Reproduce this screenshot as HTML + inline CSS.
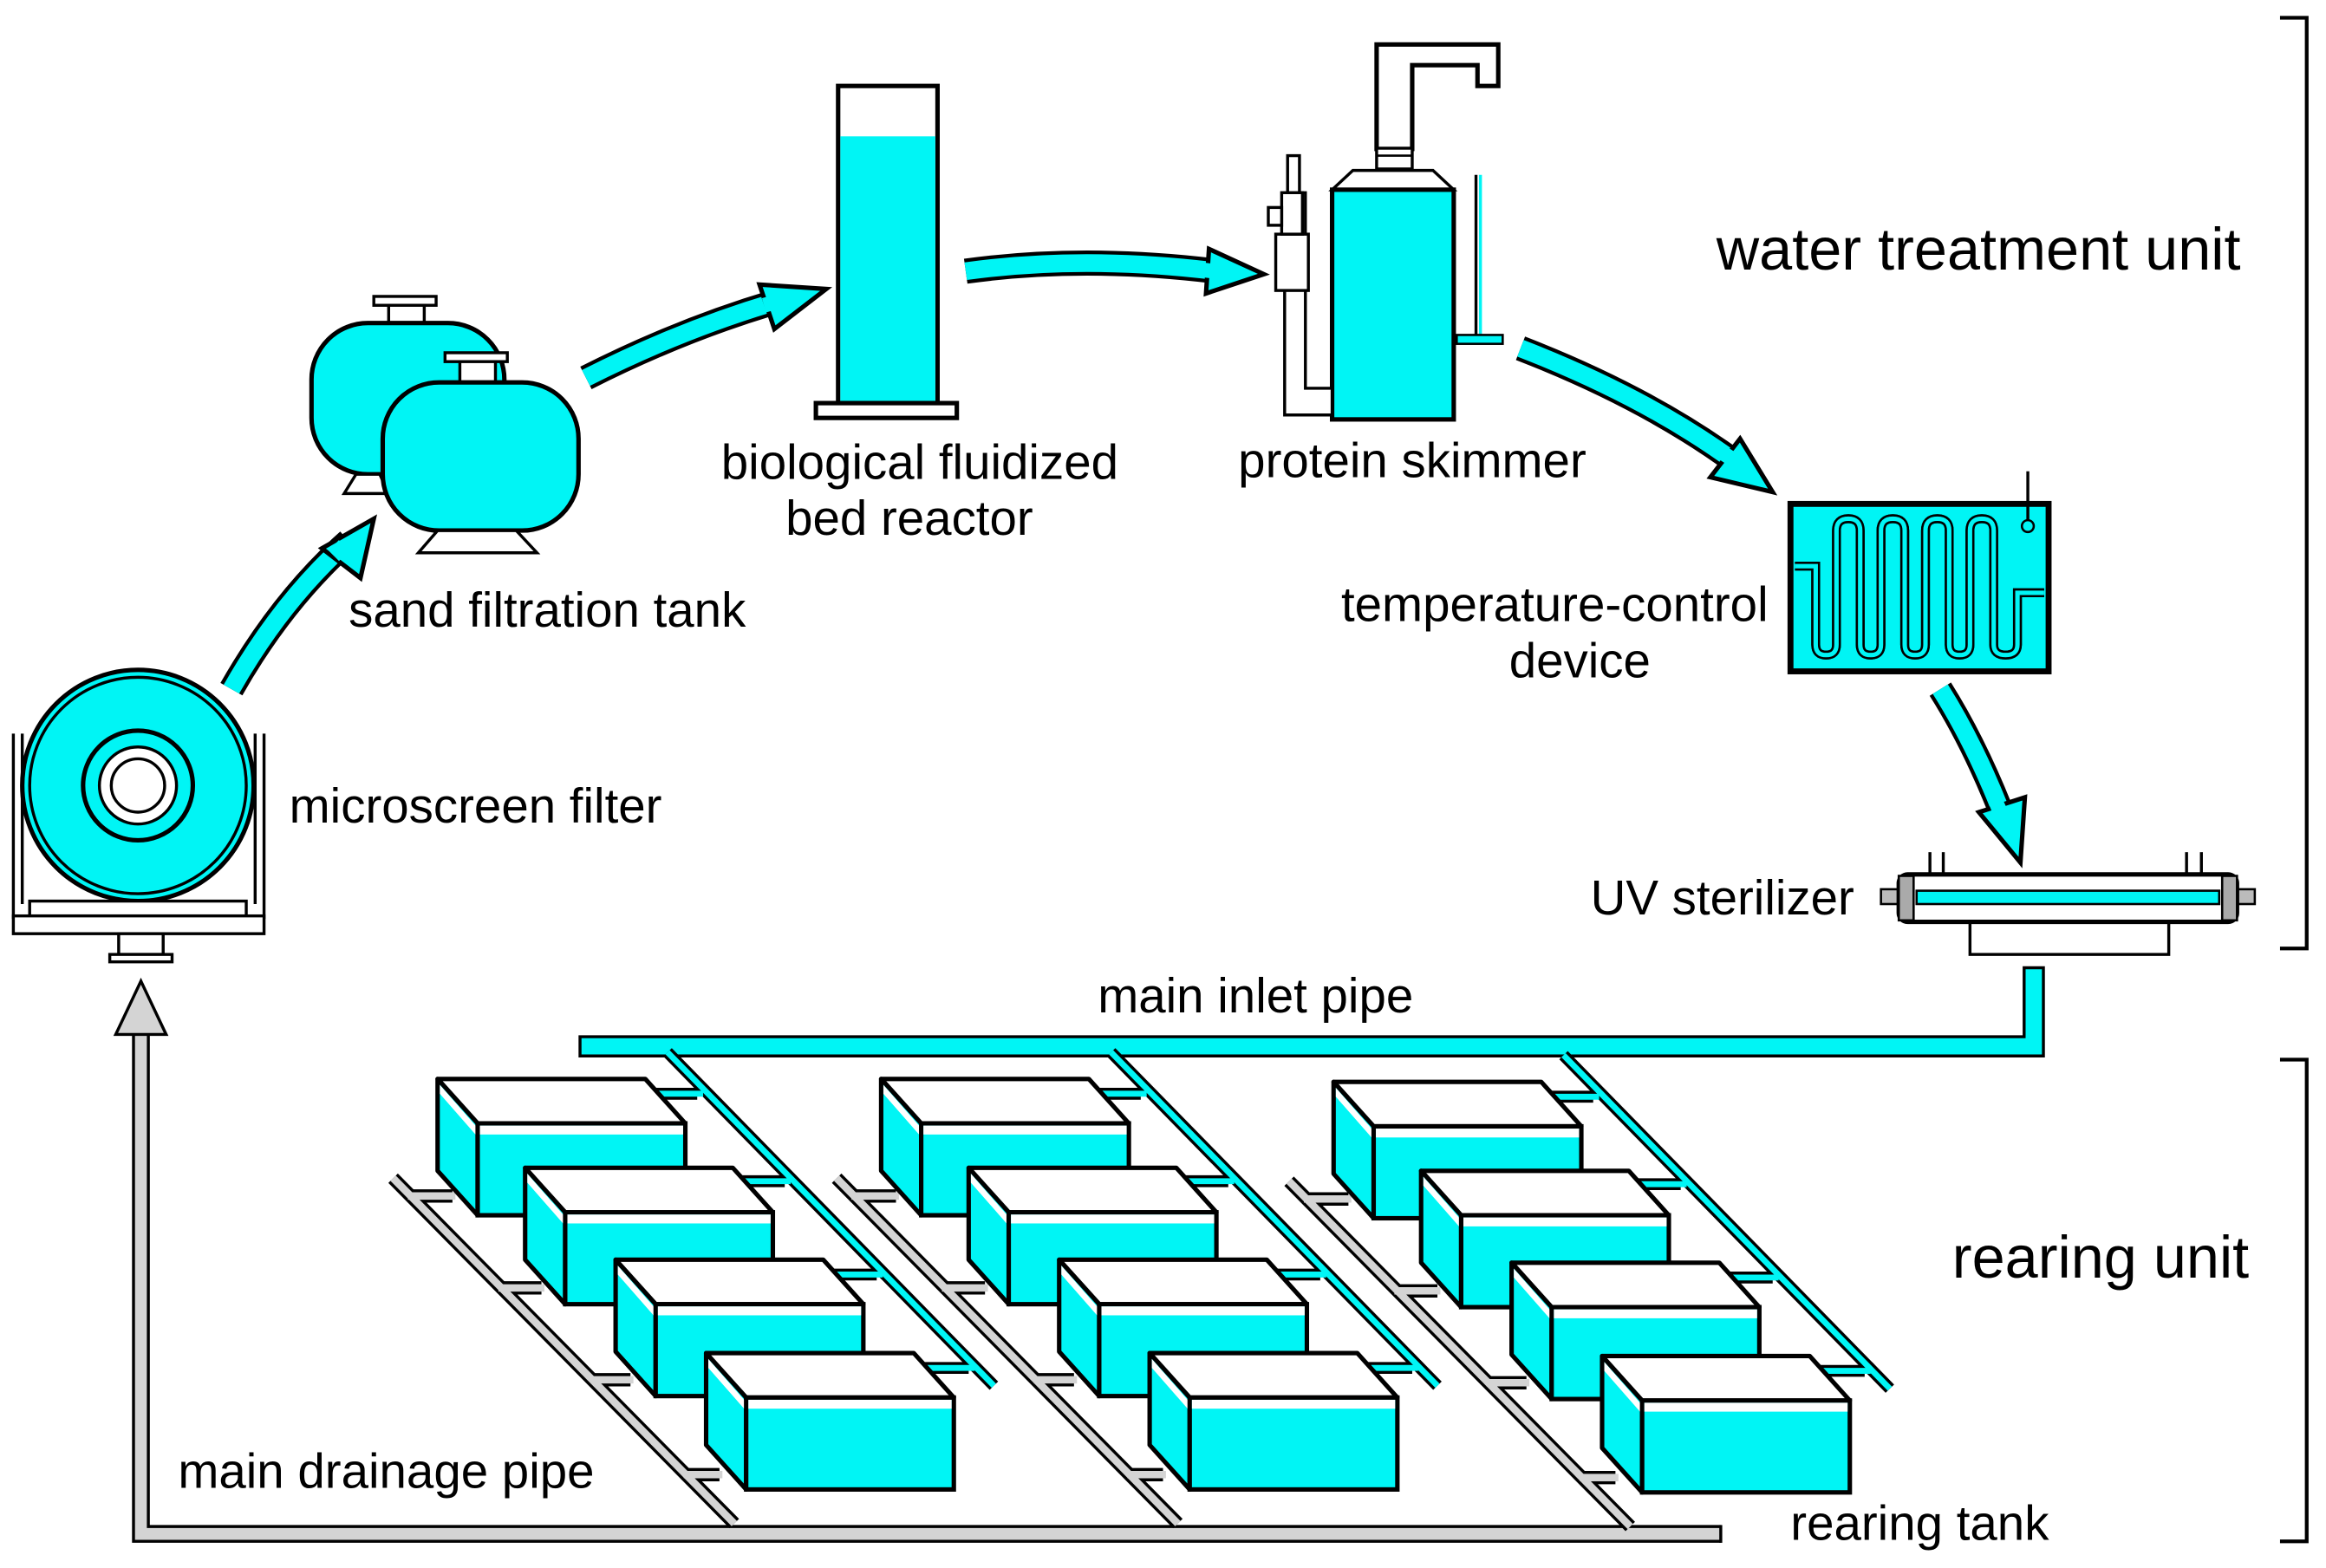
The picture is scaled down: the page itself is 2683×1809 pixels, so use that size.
<!DOCTYPE html>
<html><head><meta charset="utf-8"><style>
html,body{margin:0;padding:0;background:#fff;}
svg{display:block;}
text{font-family:"Liberation Sans",Arial,sans-serif;fill:#000;}
</style></head><body>
<svg width="2683" height="1809" viewBox="0 0 1568 1058" preserveAspectRatio="none" xmlns="http://www.w3.org/2000/svg">
<defs>
<g id="tank">
  <polygon points="0,0 140,0 167,30 27,30" fill="#fff" stroke="#000" stroke-width="3" stroke-linejoin="round"/>
  <polygon points="0,0 27,30 27,92 0,62" fill="#00f5f5" stroke="#000" stroke-width="3" stroke-linejoin="round"/>
  <polygon points="1.5,4 26,32 26,38 1.5,10" fill="#fff"/>
  <rect x="27" y="30" width="140" height="62" fill="#00f5f5" stroke="#000" stroke-width="3"/>
  <rect x="28.5" y="31.5" width="137" height="6" fill="#fff"/>
</g>
<g id="grp">
  <g stroke="#000" stroke-width="9"><line x1="12" y1="12" x2="40" y2="12"/><line x1="73" y1="74" x2="100" y2="74"/><line x1="135" y1="136" x2="160" y2="136"/><line x1="198" y1="200" x2="220" y2="200"/></g>
  <path d="M0,0 L230,233" stroke="#000" stroke-width="9" fill="none"/>
  <path d="M0,0 L230,233" stroke="#d4d4d4" stroke-width="5" fill="none"/>
  <g stroke="#d4d4d4" stroke-width="5"><line x1="10" y1="12" x2="42" y2="12"/><line x1="71" y1="74" x2="102" y2="74"/><line x1="133" y1="136" x2="162" y2="136"/><line x1="196" y1="200" x2="222" y2="200"/></g>
  <g stroke="#000" stroke-width="8"><line x1="168" y1="-57" x2="205" y2="-57"/><line x1="228" y1="2" x2="264" y2="2"/><line x1="290" y1="65" x2="326" y2="65"/><line x1="350" y1="128" x2="388" y2="128"/></g>
  <path d="M185,-85 L405,140" stroke="#000" stroke-width="8" fill="none"/>
  <path d="M185,-85 L405,140" stroke="#00f5f5" stroke-width="4" fill="none"/>
  <g stroke="#00f5f5" stroke-width="4"><line x1="168" y1="-57" x2="209" y2="-57"/><line x1="228" y1="2" x2="268" y2="2"/><line x1="290" y1="65" x2="330" y2="65"/><line x1="350" y1="128" x2="392" y2="128"/></g>
  <use href="#tank" x="30" y="-67"/>
  <use href="#tank" x="89" y="-7"/>
  <use href="#tank" x="150" y="55"/>
  <use href="#tank" x="211" y="118"/>
</g>
</defs>

<path d="M95,690 L95,1035 L1160,1035" stroke="#000" stroke-width="12" fill="none"/>
<path d="M95,690 L95,1035 L1160,1035" stroke="#d4d4d4" stroke-width="8" fill="none"/>
<line x1="1160" y1="1029" x2="1160" y2="1041" stroke="#000" stroke-width="2"/>
<polygon points="78,698 95,662 112,698" fill="#d4d4d4" stroke="#000" stroke-width="2"/>

<path d="M390,706 L1371,706 L1371,652" stroke="#000" stroke-width="15" fill="none"/>
<path d="M392,706 L1371,706 L1371,654" stroke="#00f5f5" stroke-width="11" fill="none"/>

<use href="#grp" x="265" y="795"/>
<use href="#grp" x="564" y="795"/>
<use href="#grp" x="869" y="797"/>

<g stroke="#000" stroke-width="2" fill="none">
<line x1="9" y1="495" x2="9" y2="620"/><line x1="15" y1="495" x2="15" y2="610"/>
<line x1="178" y1="495" x2="178" y2="620"/><line x1="172" y1="495" x2="172" y2="610"/>
</g>
<circle cx="93" cy="530" r="78" fill="#00f5f5" stroke="#000" stroke-width="3"/>
<circle cx="93" cy="530" r="73" fill="none" stroke="#000" stroke-width="2"/>
<circle cx="93" cy="530" r="37" fill="#00f5f5" stroke="#000" stroke-width="3"/>
<circle cx="93" cy="530" r="26" fill="#fff" stroke="#000" stroke-width="2"/>
<circle cx="93" cy="530" r="18" fill="#fff" stroke="#000" stroke-width="2"/>
<rect x="20" y="608" width="146" height="10" fill="#fff" stroke="#000" stroke-width="2"/>
<rect x="9" y="618" width="169" height="12" fill="#fff" stroke="#000" stroke-width="2"/>
<rect x="80" y="630" width="30" height="14" fill="#fff" stroke="#000" stroke-width="2"/>
<rect x="74" y="644" width="42" height="5" fill="#fff" stroke="#000" stroke-width="2"/>

<rect x="252" y="200" width="42" height="6" fill="#fff" stroke="#000" stroke-width="2"/>
<rect x="262" y="206" width="24" height="13" fill="#fff" stroke="#000" stroke-width="2"/>
<rect x="210" y="218" width="130" height="102" rx="38" fill="#00f5f5" stroke="#000" stroke-width="3"/>
<polygon points="240,320 232,333 262,333 256,320" fill="#fff" stroke="#000" stroke-width="2"/>
<rect x="300" y="238" width="42" height="6" fill="#fff" stroke="#000" stroke-width="2"/>
<rect x="310" y="244" width="24" height="14" fill="#fff" stroke="#000" stroke-width="2"/>
<rect x="258" y="258" width="132" height="100" rx="38" fill="#00f5f5" stroke="#000" stroke-width="3"/>
<polygon points="295,358 282,373 362,373 348,358" fill="#fff" stroke="#000" stroke-width="2"/>

<rect x="565" y="58" width="67" height="214" fill="#fff" stroke="#000" stroke-width="3"/>
<rect x="566.5" y="92" width="64" height="178.5" fill="#00f5f5"/>
<rect x="550" y="272" width="95" height="10" fill="#fff" stroke="#000" stroke-width="3"/>

<path d="M928,102 L928,30 L1010,30 L1010,58 L996,58 L996,44 L952,44 L952,102" fill="#fff" stroke="#000" stroke-width="3"/>
<rect x="928" y="100" width="24" height="14" fill="#fff" stroke="#000" stroke-width="2"/>
<line x1="928" y1="105" x2="952" y2="105" stroke="#000" stroke-width="1.5"/>
<polygon points="912,115 966,115 980,128 898,128" fill="#fff" stroke="#000" stroke-width="2"/>
<rect x="898" y="128" width="82" height="155" fill="#00f5f5" stroke="#000" stroke-width="3"/>
<path d="M868,105 L876,105 L876,130 L880,130 L880,262 L898,262 L898,280 L866,280 L866,195 L868,195 Z" fill="#fff" stroke="#000" stroke-width="2"/>
<rect x="860" y="158" width="22" height="38" fill="#fff" stroke="#000" stroke-width="2"/>
<rect x="864" y="130" width="14" height="28" fill="#fff" stroke="#000" stroke-width="2"/>
<rect x="855" y="140" width="9" height="12" fill="#fff" stroke="#000" stroke-width="2"/>
<line x1="995" y1="118" x2="995" y2="228" stroke="#000" stroke-width="2"/>
<line x1="998" y1="118" x2="998" y2="228" stroke="#00f5f5" stroke-width="2"/>
<rect x="982" y="226" width="31" height="6" fill="#00f5f5" stroke="#000" stroke-width="1.5"/>

<rect x="1207" y="340" width="174" height="113" fill="#00f5f5" stroke="#000" stroke-width="4"/>
<line x1="1367" y1="318" x2="1367" y2="352" stroke="#000" stroke-width="2"/>
<circle cx="1367" cy="355" r="4" fill="#00f5f5" stroke="#000" stroke-width="1.5"/>
<path id="serp" d="M1210,382 L1224,382 L1224,435 Q1224,442 1231,442 Q1238,442 1238,435 L1238,358 Q1238,350 1246,350 Q1254,350 1254,358 L1254,435 Q1254,442 1261,442 Q1268,442 1268,435 L1268,358 Q1268,350 1276,350 Q1284,350 1284,358 L1284,435 Q1284,442 1291,442 Q1298,442 1298,435 L1298,358 Q1298,350 1306,350 Q1314,350 1314,358 L1314,435 Q1314,442 1321,442 Q1328,442 1328,435 L1328,358 Q1328,350 1336,350 Q1344,350 1344,358 L1344,435 Q1344,442 1352,442 Q1360,442 1360,435 L1360,400 L1378,400" fill="none" stroke="#000" stroke-width="6"/>
<use href="#serp" style="stroke:#00f5f5;stroke-width:3"/>
<path d="M1210,382 L1224,382 L1224,435 Q1224,442 1231,442 Q1238,442 1238,435 L1238,358 Q1238,350 1246,350 Q1254,350 1254,358 L1254,435 Q1254,442 1261,442 Q1268,442 1268,435 L1268,358 Q1268,350 1276,350 Q1284,350 1284,358 L1284,435 Q1284,442 1291,442 Q1298,442 1298,435 L1298,358 Q1298,350 1306,350 Q1314,350 1314,358 L1314,435 Q1314,442 1321,442 Q1328,442 1328,435 L1328,358 Q1328,350 1336,350 Q1344,350 1344,358 L1344,435 Q1344,442 1352,442 Q1360,442 1360,435 L1360,400 L1378,400" fill="none" stroke="#00f5f5" stroke-width="3"/>

<g stroke="#000" stroke-width="2">
<line x1="1301" y1="575" x2="1301" y2="590"/><line x1="1310" y1="575" x2="1310" y2="590"/>
<line x1="1474" y1="575" x2="1474" y2="590"/><line x1="1484" y1="575" x2="1484" y2="590"/>
</g>
<rect x="1328" y="622" width="134" height="22" fill="#fff" stroke="#000" stroke-width="2"/>
<rect x="1268" y="600" width="12" height="10" fill="#bbb" stroke="#000" stroke-width="1.5"/>
<rect x="1508" y="600" width="12" height="10" fill="#bbb" stroke="#000" stroke-width="1.5"/>
<rect x="1280" y="590" width="228" height="32" rx="6" fill="#fff" stroke="#000" stroke-width="3"/>
<rect x="1280" y="591" width="10" height="30" fill="#aaa" stroke="#000" stroke-width="1.5"/>
<rect x="1498" y="591" width="10" height="30" fill="#aaa" stroke="#000" stroke-width="1.5"/>
<rect x="1292" y="601" width="204" height="9" fill="#00f5f5" stroke="#000" stroke-width="1.5"/>

<g fill="none" stroke-linecap="butt">
<path d="M156,465 Q190,405 235,365" stroke="#000" stroke-width="17"/>
<path d="M156,465 Q190,405 235,365" stroke="#00f5f5" stroke-width="12"/>
<path d="M395,255 Q460,222 525,203" stroke="#000" stroke-width="17"/>
<path d="M395,255 Q460,222 525,203" stroke="#00f5f5" stroke-width="12"/>
<path d="M651,183 Q730,172 820,183" stroke="#000" stroke-width="17"/>
<path d="M651,183 Q730,172 820,183" stroke="#00f5f5" stroke-width="12"/>
<path d="M1025,235 Q1110,268 1170,312" stroke="#000" stroke-width="17"/>
<path d="M1025,235 Q1110,268 1170,312" stroke="#00f5f5" stroke-width="12"/>
<path d="M1308,465 Q1330,500 1348,545" stroke="#000" stroke-width="17"/>
<path d="M1308,465 Q1330,500 1348,545" stroke="#00f5f5" stroke-width="12"/>
</g>
<g fill="#00f5f5" stroke="#000" stroke-width="3">
<polygon points="217,370 252,350 243,390"/>
<polygon points="512,192 557,195 522,222"/>
<polygon points="815,168 852,185 813,198"/>
<polygon points="1173,296 1195,332 1153,322"/>
<polygon points="1334,548 1365,538 1362,582"/>
</g>
<g stroke="#00f5f5" stroke-width="10" fill="none">
<path d="M225,375 L232,368"/><path d="M515,206 L522,204"/><path d="M810,182 L818,183"/><path d="M1162,306 L1168,310"/><path d="M1345,540 L1348,547"/>
</g>

<path d="M1537,12 L1555,12 L1555,640 L1537,640" fill="none" stroke="#000" stroke-width="2.5"/>
<path d="M1537,715 L1555,715 L1555,1040 L1537,1040" fill="none" stroke="#000" stroke-width="2.5"/>

<text x="1157" y="182" font-size="40">water treatment unit</text>
<text x="1316" y="862" font-size="40">rearing unit</text>
<text x="195" y="555" font-size="33">microscreen filter</text>
<text x="235" y="423" font-size="33">sand filtration tank</text>
<text x="620" y="323" font-size="33" text-anchor="middle">biological fluidized</text>
<text x="613" y="361" font-size="33" text-anchor="middle">bed reactor</text>
<text x="952" y="322" font-size="33" text-anchor="middle">protein skimmer</text>
<text x="1192" y="419" font-size="33" text-anchor="end">temperature-control</text>
<text x="1065" y="457" font-size="33" text-anchor="middle">device</text>
<text x="1250" y="617" font-size="33" text-anchor="end">UV sterilizer</text>
<text x="740" y="683" font-size="33">main inlet pipe</text>
<text x="120" y="1004" font-size="33">main drainage pipe</text>
<text x="1207" y="1039" font-size="33">rearing tank</text>
</svg>
</body></html>
